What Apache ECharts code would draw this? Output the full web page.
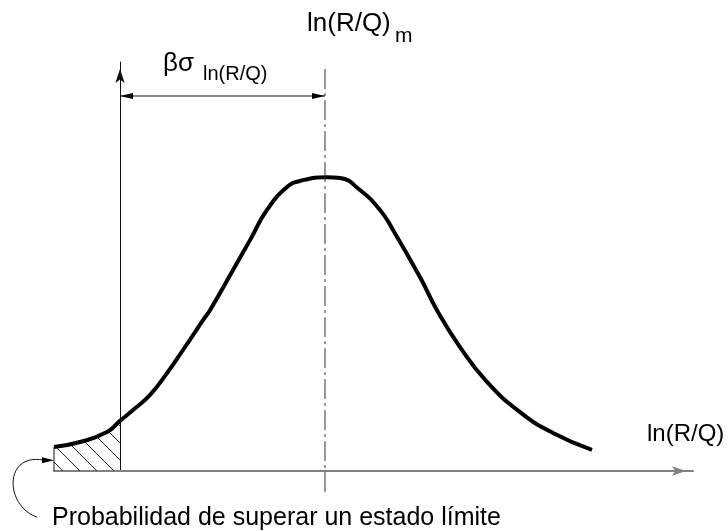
<!DOCTYPE html>
<html>
<head>
<meta charset="utf-8">
<script src="https://cdn.jsdelivr.net/npm/echarts@6/dist/echarts.min.js"></script>
<style>html,body{margin:0;padding:0;background:#fff;}#c{width:728px;height:531px;}</style>
</head>
<body>
<div id="c"></div>
<script>
// Curve of ln(R/Q) density (schematic), x in ln(R/Q) units, y relative density
const curveX = [-0.966, -0.585, -0.19, 0, 0.19, 0.44, 0.688, 0.922, 1.215, 1.317, 1.654, 1.903, 2.151, 2.444, 2.634, 3.03, 3.22, 3.512, 3.805, 3.995, 4.39, 4.639, 4.976, 5.371, 5.854, 6.337, 6.908];
const curveY = [0.082, 0.099, 0.133, 0.171, 0.208, 0.26, 0.334, 0.413, 0.515, 0.549, 0.686, 0.788, 0.891, 0.969, 0.990, 1.003, 1.0, 0.959, 0.891, 0.823, 0.662, 0.549, 0.423, 0.304, 0.201, 0.130, 0.072];
const meanX = 3.0;          // ln(R/Q)_m
const failLimitX = 0;       // limit state (y axis position)
const xRange = [-0.966, 8.386];
const yRange = [0, 1.396];
const arrowY = 1.28;
const dashRange = [-0.072, 1.386];

const curve = curveX.map((x, i) => [x, curveY[i]]);
const hatch = curve.filter(p => p[0] <= failLimitX);

// hatch pattern
const pc = document.createElement('canvas');
pc.width = 17; pc.height = 17;
const g = pc.getContext('2d');
g.strokeStyle = '#222'; g.lineWidth = 1;
g.beginPath(); g.moveTo(-2, -2); g.lineTo(19, 19); g.stroke();

const chart = echarts.init(document.getElementById('c'), null, {renderer: 'canvas'});
const FONT = '"Liberation Sans", Arial, sans-serif';
chart.setOption({
  animation: false,
  backgroundColor: '#fff',
  grid: {left: 54, right: 35, top: 62, bottom: 60},
  xAxis: {
    type: 'value', min: xRange[0], max: xRange[1],
    axisLine: {show: true, onZero: true, lineStyle: {color: '#808080', width: 2},
      symbol: ['none', 'arrow'], symbolSize: [7, 14], symbolOffset: [0, -7]},
    axisTick: {show: false}, axisLabel: {show: false}, splitLine: {show: false}
  },
  yAxis: {
    type: 'value', min: yRange[0], max: yRange[1],
    axisLine: {show: true, onZero: true, lineStyle: {color: '#111', width: 1},
      symbol: ['none', 'arrow'], symbolSize: [7, 14], symbolOffset: [0, -7]},
    axisTick: {show: false}, axisLabel: {show: false}, splitLine: {show: false}
  },
  series: [
    {
      type: 'line', data: hatch, smooth: true, symbol: 'none', silent: true,
      lineStyle: {width: 0},
      areaStyle: {color: {image: pc, repeat: 'repeat'}, opacity: 1},
      z: 1
    },
    {
      type: 'line', data: [[curveX[0], 0], [curveX[0], curveY[0]]], symbol: 'none', silent: true,
      lineStyle: {color: '#111', width: 1}, z: 2
    },
    {
      type: 'line', data: curve, smooth: true, symbol: 'none', silent: true,
      lineStyle: {color: '#000', width: 4}, z: 3
    }
  ]
});

function P(x, y) { return chart.convertToPixel({gridIndex: 0}, [x, y]); }
const d0 = P(meanX, dashRange[0]), d1 = P(meanX, dashRange[1]);
const a0 = P(failLimitX, arrowY), a1 = P(meanX, arrowY);
const e0 = P(curveX[0], curveY[0] * 0.45);
const ax = P(xRange[1], 0);
const L = 13, W = 3;
// text placed by its alphabetic baseline
function T(text, x, baseline, fs) {
  return {type: 'text', x: x, y: baseline - 0.33 * fs, z: 10,
    style: {text: text, font: fs + 'px ' + FONT, fill: '#000', verticalAlign: 'middle', align: 'left'}};
}
chart.setOption({
  graphic: [
    {type: 'line', shape: {x1: d0[0], y1: d0[1], x2: d1[0], y2: d1[1]},
      style: {stroke: '#333', lineWidth: 1, lineDash: [20, 4, 3, 4]}, z: 10},
    {type: 'line', shape: {x1: a0[0], y1: a0[1], x2: a1[0], y2: a1[1]},
      style: {stroke: '#111', lineWidth: 1}, z: 10},
    {type: 'polygon', shape: {points: [[a0[0], a0[1]], [a0[0] + L, a0[1] - W], [a0[0] + L, a0[1] + W]]},
      style: {fill: '#000'}, z: 10},
    {type: 'polygon', shape: {points: [[a1[0], a1[1]], [a1[0] - L, a1[1] - W], [a1[0] - L, a1[1] + W]]},
      style: {fill: '#000'}, z: 10},
    // curved pointer to hatched area
    {type: 'bezierCurve', shape: {x1: e0[0] - 17, y1: e0[1] + 57, cpx1: e0[0] - 50, cpy1: e0[1] + 45,
        cpx2: e0[0] - 50, cpy2: e0[1] - 8, x2: e0[0] - 10, y2: e0[1]},
      style: {stroke: '#111', lineWidth: 1, fill: null}, z: 10},
    {type: 'polygon', shape: {points: [[e0[0], e0[1]], [e0[0] - 12, e0[1] - 3], [e0[0] - 12, e0[1] + 3]]},
      style: {fill: '#000'}, z: 10},
    // texts
    T('ln(R/Q)', d1[0] - 18, 32, 26),
    T('m', d1[0] + 70, 43, 21),
    T('βσ', a0[0] + 43, 72, 26),
    T('ln(R/Q)', a0[0] + 83, 81, 20),
    T('ln(R/Q)', ax[0] - 46, 442, 24),
    T('Probabilidad de superar un estado límite', e0[0] - 2, 526, 25)
  ]
});
</script>
</body>
</html>
